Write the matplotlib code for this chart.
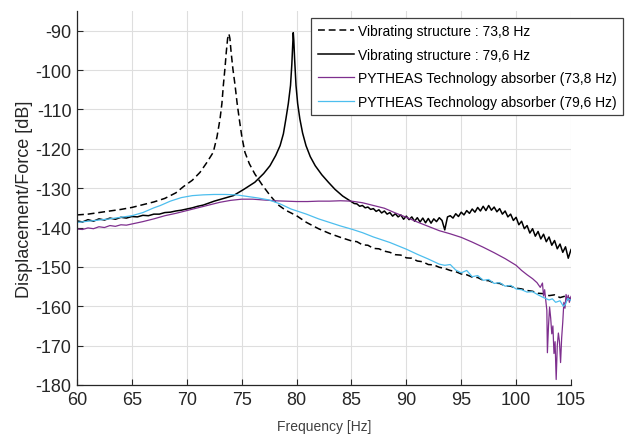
import matplotlib
matplotlib.use("Agg")
import matplotlib.pyplot as plt

plt.rcParams['font.family'] = ['Liberation Sans', 'DejaVu Sans']
plt.rcParams['axes.unicode_minus'] = False

# ---------------- data ----------------
labels = ["Vibrating structure : 73,8 Hz",
          "Vibrating structure : 79,6 Hz",
          "PYTHEAS Technology absorber (73,8 Hz)",
          "PYTHEAS Technology absorber (79,6 Hz)"]

xticks = [60, 65, 70, 75, 80, 85, 90, 95, 100, 105]
yticks = [-180, -170, -160, -150, -140, -130, -120, -110, -100, -90]

# Vibrating structure, resonance 73.8 Hz (dashed black)
f_vs1 = [60, 61, 62, 63, 64, 65, 66, 67, 68, 69, 69.7, 70.5, 71.2, 71.8, 72.41,
         72.75, 73.03, 73.2, 73.33, 73.48, 73.6, 73.72, 73.84, 73.93, 74.03,
         74.2, 74.4, 74.58, 74.78, 75.02, 75.3,
         75.7, 76.2, 76.9, 77.6, 78.3, 79, 80, 80.9, 82, 83, 84, 85, 85.5, 86,
         86.5, 87, 87.5, 88, 88.5, 89, 89.5, 90, 90.5, 91, 91.5, 92, 92.5, 93,
         93.5, 94, 94.5, 95, 95.5, 96, 96.5, 97, 97.5, 98, 98.5, 99, 99.5, 100,
         100.5, 101, 101.5, 102, 102.5, 103, 103.5, 104, 104.5, 105]
d_vs1 = [-136.8, -136.6, -136.2, -135.8, -135.4, -134.9, -134.2, -133.5, -132.6,
         -131.2, -129.6, -128.0, -126.0, -123.6, -120.9, -117.0, -112.4, -108.5,
         -103.9, -99.5, -95.4, -92.0, -90.8, -92.0, -95.2,
         -99.7, -103.9, -108.3, -112.4, -117.0, -120.9,
         -123.8, -126.4, -129.3, -131.9, -134.2, -135.6, -137.0, -138.7, -140.3,
         -141.5, -142.5, -143.4, -143.6, -144.4, -144.5, -145.3, -145.4, -146.0,
         -146.3, -146.9, -147.0, -147.7, -147.8, -148.5, -148.7, -149.4, -149.5,
         -150.1, -150.4, -150.9, -151.2, -151.8, -152.0, -152.6, -152.7, -153.4,
         -153.5, -154.1, -154.2, -154.8, -154.9, -155.4, -155.6, -156.0, -156.2,
         -156.7, -156.8, -157.3, -157.1, -157.8, -157.4, -158.2]

# Vibrating structure, resonance 79.6 Hz (solid black)
f_vs2 = [60, 60.5, 61, 61.5, 62, 62.5, 63, 63.5, 64, 64.5, 65, 65.5, 66, 66.5,
         67, 67.5, 68, 68.5, 69, 69.5, 70, 70.5, 71, 71.5, 72, 72.5, 73, 73.5,
         74.24, 75.2, 76.2, 77.0, 77.58, 78.1, 78.5, 78.8, 79.03, 79.25, 79.45,
         79.57, 79.65, 79.7, 79.75, 79.82, 79.95, 80.1, 80.3, 80.55, 80.86,
         81.25, 81.7, 82.3, 82.9, 83.5, 84.2, 84.86,
         85.25, 85.5, 85.75, 86.0, 86.25, 86.5, 86.75, 87.0, 87.25, 87.5, 87.75,
         88.0, 88.25, 88.5, 88.75, 89.0, 89.25, 89.5, 89.75, 90.0, 90.25, 90.5,
         90.75, 91.0, 91.25, 91.5, 91.75, 92.0, 92.25, 92.5, 92.75, 93.0, 93.25,
         93.5, 93.75, 94.0, 94.25, 94.5, 94.75, 95.0, 95.25, 95.5, 95.75, 96.0,
         96.25, 96.5, 96.75, 97.0, 97.25, 97.5, 97.75, 98.0, 98.25, 98.5, 98.75,
         99.0, 99.25, 99.5, 99.75, 100.0, 100.25, 100.5, 100.75, 101.0, 101.25,
         101.5, 101.75, 102.0, 102.25, 102.5, 102.75, 103.0, 103.25, 103.5,
         103.75, 104.0, 104.25, 104.5, 104.75, 105.0]
d_vs2 = [-138.3, -138.6, -138.0, -138.4, -137.8, -138.1, -137.6, -137.9, -137.4,
         -137.6, -137.2, -137.3, -136.9, -137.0, -136.6, -136.6, -136.2, -136.1,
         -135.8, -135.6, -135.3, -135.0, -134.6, -134.3, -133.8, -133.3, -132.9,
         -132.5, -131.9, -130.3, -128.5, -126.3, -124.3, -121.7, -119.2, -116.2,
         -112.4, -108.5, -103.9, -98.5, -93.5, -90.5, -92.5, -97.0, -103.9,
         -108.5, -112.4, -116.0, -119.2, -122.0, -124.3, -126.6, -128.5, -130.3,
         -132.0, -133.2,
         -133.9, -134.0, -134.6, -134.4, -135.0, -134.8, -135.4, -135.2, -135.9,
         -135.5, -136.3, -135.8, -136.6, -136.2, -137.1, -136.5, -137.3, -136.8,
         -137.9, -137.1, -138.0, -137.3, -138.4, -137.5, -138.6, -137.6, -138.8,
         -137.7, -138.9, -137.8, -138.5, -137.5, -138.2, -140.6, -137.3, -137.0,
         -137.6, -136.5, -137.2, -136.1, -136.8, -135.7, -136.4, -135.3, -136.1,
         -134.9, -135.8, -134.6, -135.7, -134.4, -135.6, -134.8, -136.0, -135.2,
         -136.6, -135.8, -137.3, -136.6, -138.2, -137.4, -139.3, -138.4, -140.3,
         -139.5, -141.4, -140.3, -142.2, -141.0, -142.9, -141.7, -143.6, -142.4,
         -144.5, -143.3, -145.4, -144.2, -146.3, -144.9, -147.8, -145.6]

# PYTHEAS absorber on the 73.8 Hz structure (purple)
f_ab1 = [60, 60.5, 61, 61.5, 62, 62.5, 63, 63.5, 64, 64.5, 65, 66, 67, 68, 69,
         70, 71, 72, 73, 74, 75, 76, 77, 78, 79, 80, 81, 82, 83, 84, 85, 86, 87,
         88, 89, 90, 91, 92, 93, 94, 95, 96, 97, 98, 99, 100, 100.5, 101, 101.5,
         101.9, 102.2, 102.4, 102.5, 102.6, 102.7, 102.8, 102.85, 102.95, 103.05,
         103.15, 103.25, 103.35, 103.45, 103.55, 103.65, 103.75, 103.85, 103.95,
         104.05, 104.15, 104.25, 104.35, 104.45, 104.55, 104.65, 104.75, 104.85,
         105]
d_ab1 = [-140.4, -140.5, -140.1, -140.3, -139.8, -140.0, -139.5, -139.7, -139.3,
         -139.4, -139.1, -138.5, -137.8, -137.0, -136.4, -135.7, -135.0, -134.3,
         -133.6, -133.1, -132.8, -132.8, -133.0, -133.2, -133.3, -133.4, -133.4,
         -133.3, -133.3, -133.2, -133.3, -133.7, -134.4, -135.1, -136.3, -137.4,
         -138.6, -139.7, -140.8, -141.6, -142.5, -143.7, -145.0, -146.4, -147.9,
         -149.6, -150.9, -152.0, -153.0, -154.0, -155.2, -154.1, -157.4, -155.8,
         -158.5, -161.0, -171.8, -165.0, -160.2, -163.0, -167.0, -165.0, -172.0,
         -169.0, -178.6, -170.0, -166.8, -169.0, -174.3, -168.0, -164.0, -159.0,
         -160.5, -157.0, -158.5, -157.2, -159.0, -157.5]

# PYTHEAS absorber on the 79.6 Hz structure (light blue)
f_ab2 = [60, 61, 62, 63, 64, 65, 66, 67, 67.6, 68.5, 69.5, 70.5, 71.5, 72.5,
         73.5, 74.5, 75.5, 76.5, 77.5, 78.5, 79.5, 80.9, 82, 83, 84, 85, 86, 87,
         88.5, 90, 91, 92, 93, 93.5, 94, 94.5, 95, 95.5, 96, 96.5, 97, 97.5, 98,
         98.5, 99, 99.5, 100, 100.5, 101, 101.5, 102, 102.5, 103, 103.3, 103.6,
         104, 104.3, 104.5, 104.7, 105]
d_ab2 = [-138.7, -138.4, -138.1, -137.8, -137.4, -137.0, -136.2, -135.0, -134.4,
         -133.3, -132.4, -131.9, -131.7, -131.6, -131.6, -131.7, -132.1, -132.5,
         -133.0, -134.0, -135.3, -136.6, -137.8, -138.7, -139.6, -140.4, -141.3,
         -142.4, -143.8, -145.5, -146.8, -148.0, -149.3, -149.6, -149.4, -150.8,
         -151.5, -150.9, -152.5, -152.2, -153.4, -153.2, -154.2, -154.0, -154.9,
         -154.7, -155.6, -155.8, -156.4, -156.3, -157.1, -157.8, -158.4, -158.1,
         -159.0, -158.6, -160.0, -159.5, -158.0, -158.5]

# ---------------- figure ----------------
fig = plt.figure(figsize=(6.27, 4.35), dpi=100)
ax = fig.add_axes([77 / 627, 49 / 435, 494 / 627, 374 / 435])

ax.plot(f_vs1, d_vs1, color='black', lw=1.1, dashes=(4.5, 2.5), label=labels[0])
ax.plot(f_vs2, d_vs2, color='black', lw=1.1, label=labels[1])
ax.plot(f_ab1, d_ab1, color='#7E2F8E', lw=0.9, label=labels[2])
ax.plot(f_ab2, d_ab2, color='#4DBEEE', lw=0.9, label=labels[3])

ax.set_xlim(60, 105)
ax.set_ylim(-180, -85)
ax.set_xticks(xticks)
ax.set_yticks(yticks)
ax.grid(True, color='#dedede', lw=0.8)
ax.set_axisbelow(True)

for s in ['top', 'right']:
    ax.spines[s].set_visible(False)
for s in ['left', 'bottom']:
    ax.spines[s].set_color('#262626')
    ax.spines[s].set_linewidth(0.9)

ax.tick_params(direction='in', length=4, width=0.8, colors='#262626',
               labelsize=13, pad=4)

ax.set_xlabel('Frequency [Hz]', fontsize=10, color='#404040', labelpad=8)
ax.set_ylabel('Displacement/Force [dB]', fontsize=13, color='#262626', labelpad=2)

leg = ax.legend(loc='upper right', bbox_to_anchor=(623 / 627, 1 - 19 / 435),
                bbox_transform=fig.transFigure, fontsize=10, frameon=True,
                fancybox=False, edgecolor='#404040', framealpha=1,
                handlelength=2.6, handletextpad=0.3, labelspacing=0.68,
                borderpad=0.45, borderaxespad=0)
leg.get_frame().set_linewidth(0.9)

fig.savefig('out.png', dpi=100)
